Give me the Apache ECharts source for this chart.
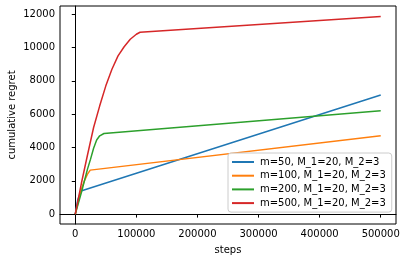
<!DOCTYPE html>
<html>
<head>
<meta charset="utf-8">
<script src="https://cdn.jsdelivr.net/npm/echarts@6/dist/echarts.min.js"></script>
<style>html,body{margin:0;padding:0;background:#fff}#c{width:405px;height:262px}</style>
</head>
<body>
<div id="c"></div>
<script>
const seriesNames = ['m=50, M_1=20, M_2=3','m=100, M_1=20, M_2=3','m=200, M_1=20, M_2=3','m=500, M_1=20, M_2=3'];
const colors = ['#1f77b4','#ff7f0e','#2ca02c','#d62728'];
const blueSteps = [0, 4000, 9300, 500000];
const blueVals = [0, 850, 1390, 7150];
const orangeSteps = [0, 10000, 15000, 20000, 24500, 500000];
const orangeVals = [0, 1500, 2000, 2400, 2640, 4700];
const greenSteps = [0, 10000, 20000, 25000, 30000, 35000, 40000, 47000, 500000];
const greenVals = [0, 1300, 2700, 3300, 3950, 4450, 4700, 4840, 6200];
const redSteps = [0, 10000, 20000, 30000, 40000, 50000, 60000, 70000, 80000, 90000, 100000, 106000, 500000];
const redVals = [0, 1850, 3550, 5200, 6500, 7700, 8700, 9500, 10050, 10500, 10800, 10920, 11870];
const xTicks = [0, 100000, 200000, 300000, 400000, 500000];
const yTicks = [0, 2000, 4000, 6000, 8000, 10000, 12000];
const xName = 'steps';
const yName = 'cumulative regret';

const stepsList = [blueSteps, orangeSteps, greenSteps, redSteps];
const valsList = [blueVals, orangeVals, greenVals, redVals];

const font = 'DejaVu Sans';
const chart = echarts.init(document.getElementById('c'), null, {renderer: 'canvas'});
chart.setOption({
  animation: false,
  backgroundColor: '#fff',
  grid: {left: 60, right: 9, top: 6, bottom: 38, show: true, borderColor: '#000', borderWidth: 1, containLabel: false, outerBoundsMode: 'none'},
  graphic: [{
    type: 'text', x: 12, y: 115, rotation: Math.PI / 2,
    style: {text: yName, fontFamily: font, fontSize: 10, fill: '#000', align: 'center', verticalAlign: 'middle'}
  }],
  xAxis: {
    type: 'value', min: -25000, max: 525000,
    name: xName, nameLocation: 'middle', nameGap: 21,
    nameTextStyle: {fontFamily: font, fontSize: 10, color: '#000'},
    axisLine: {show: true, lineStyle: {color: '#000', width: 1}},
    axisTick: {show: true, length: 3.5, customValues: xTicks, lineStyle: {color: '#000'}},
    axisLabel: {customValues: xTicks, fontFamily: font, fontSize: 10, color: '#000', margin: 5, formatter: v => String(v)},
    splitLine: {show: false}
  },
  yAxis: {
    type: 'value', min: -595, max: 12495,
    axisLine: {show: true, lineStyle: {color: '#000', width: 1}},
    axisTick: {show: true, length: 3.5, customValues: yTicks, lineStyle: {color: '#000'}},
    axisLabel: {customValues: yTicks, fontFamily: font, fontSize: 10, color: '#000', margin: 5, formatter: v => String(v)},
    splitLine: {show: false}
  },
  legend: {
    orient: 'vertical', left: 228, top: 153, width: 167,
    backgroundColor: 'rgba(255,255,255,0.8)', borderColor: '#ccc', borderWidth: 1, borderRadius: 3,
    padding: [4, 6, 4, 4], itemGap: 3.7, itemWidth: 22, itemHeight: 2, icon: 'rect',
    textStyle: {fontFamily: font, fontSize: 10, color: '#000', padding: [0, 0, 0, 1]},
    data: seriesNames
  },
  series: seriesNames.map((n, i) => ({
    name: n, type: 'line', showSymbol: false, symbol: 'none',
    lineStyle: {color: colors[i], width: 1.5}, itemStyle: {color: colors[i]},
    data: stepsList[i].map((s, j) => [s, valsList[i][j]])
  }))
});
</script>
</body>
</html>
